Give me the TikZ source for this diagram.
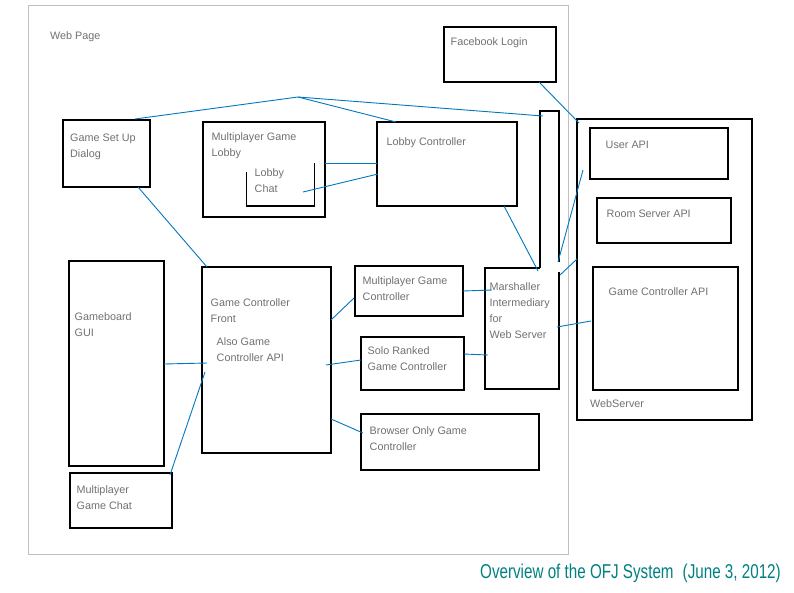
\documentclass[tikz,border=0pt]{standalone}
\usepackage{fontspec}
\setmainfont{Liberation Sans}
\definecolor{lnblue}{RGB}{0,120,192}
\definecolor{txtgray}{RGB}{112,112,112}
\definecolor{framegray}{RGB}{192,192,192}
\definecolor{titleteal}{RGB}{0,128,128}
\newcommand\mybox[5]{\node[box,minimum width=#4pt,minimum height=#5pt] (#1) at (#2,#3) {};}
\begin{document}
\begin{tikzpicture}[x=1pt,y=-1pt,
  box/.style={draw=black,line width=1.2pt,anchor=north west,inner sep=0pt,outer sep=0pt},
  lbl/.style={anchor=base west,inner sep=0pt,align=left,text=txtgray,font=\fontsize{10.8}{16}\selectfont},
  conn/.style={draw=lnblue,line width=0.9pt},
  outline/.style={draw=black,line width=1.2pt}]
\useasboundingbox (0,0) rectangle (794,592);
% web page frame
\node[draw=framegray,line width=1pt,anchor=north west,minimum width=540pt,minimum height=549pt,inner sep=0pt,outer sep=0pt] (web) at (28,5) {};
\node[lbl] (webl) at (50,39) {Web Page};
% boxes
\mybox{gsd}{63}{120}{87}{67}
\mybox{mgl}{203}{122}{122}{95}
\mybox{lc}{377}{122}{140}{84}
\mybox{fb}{444}{27}{112}{55}
\mybox{ws}{577}{119}{175}{301}
\mybox{uapi}{590}{128}{138}{51}
\mybox{rapi}{597}{198}{134}{45}
\mybox{gapi}{593}{267}{145}{123}
\mybox{gui}{69}{261}{95}{205}
\mybox{mgc}{70}{473}{102}{55}
\mybox{gcf}{202}{267}{129}{186}
\mybox{mpgc}{355}{266}{108}{50}
\mybox{srgc}{361}{337}{103}{53}
\mybox{bogc}{361}{414}{178}{56}
% marshaller and tall narrow box
\node[anchor=north west,minimum width=74pt,minimum height=121pt,inner sep=0pt,outer sep=0pt] (mar) at (485,268) {};
\coordinate (narTL) at (540,111);
\coordinate (narTR) at (559,111);
\draw[outline] (540,268) -- (narTL) -- (narTR) -- (559,262);
\draw[outline] (540,268) -- (mar.north west) -- (mar.south west) -- (mar.south east) -- (559,272);
% lobby chat bracket
\coordinate (lchatL) at (246.7,172);
\coordinate (lchatR) at (314.3,163);
\draw[outline] (lchatL) |- (314.3,206) -- (lchatR);
% labels (y = baseline of last line)
\node[lbl] (gsdl) at (70,157) {Game Set Up\\Dialog};
\node[lbl] (mgll) at (211.5,156) {Multiplayer Game\\Lobby};
\node[lbl] (lchatl) at (254.5,192) {Lobby\\Chat};
\node[lbl] (lcl) at (386.5,145) {Lobby Controller};
\node[lbl] (fbl) at (450.5,45) {Facebook Login};
\node[lbl] (uapil) at (605.5,148.5) {User API};
\node[lbl] (rapil) at (606.5,217.5) {Room Server API};
\node[lbl] (gapil) at (608.5,295) {Game Controller API};
\node[lbl] (wsl) at (590,407.5) {WebServer};
\node[lbl] (marl) at (489.5,338) {Marshaller\\Intermediary\\for\\Web Server};
\node[lbl] (mpgcl) at (362.5,300) {Multiplayer Game\\Controller};
\node[lbl] (srgcl) at (367.5,370) {Solo Ranked\\Game Controller};
\node[lbl] (bogcl) at (369.5,450) {Browser Only Game\\Controller};
\node[lbl] (guil) at (74.5,336) {Gameboard\\GUI};
\node[lbl] (mgcl) at (76.5,509.5) {Multiplayer\\Game Chat};
\node[lbl] (gcfl) at (210.5,322.5) {Game Controller\\Front};
\node[lbl] (gcfl2) at (216.5,361) {Also Game\\Controller API};
% connector end points
\coordinate (apex) at (298,97);
\coordinate (gsdTop) at (135,119);
\coordinate (lcTop) at (396,122);
\coordinate (narTop) at (543,116);
\coordinate (mglR) at (325,163);
\coordinate (lcL1) at (377,163);
\coordinate (lchatIn) at (303,192);
\coordinate (lcL2) at (378,174);
\coordinate (lcBot) at (504,206);
\coordinate (marTop) at (538,271);
\coordinate (fbBot) at (539,82);
\coordinate (wsTL) at (579,123);
\coordinate (uapiP) at (583,170);
\coordinate (narR) at (558,262);
\coordinate (marR1) at (560,275);
\coordinate (wsL) at (577,259);
\coordinate (marR2) at (557,327);
\coordinate (gapiL) at (591,321);
\coordinate (mpgcR) at (463,291);
\coordinate (marL1) at (492,290);
\coordinate (srgcR) at (464,354);
\coordinate (marL2) at (488,355);
\coordinate (gsdBot) at (138,187);
\coordinate (gcfTop) at (207,267);
\coordinate (guiR) at (164,364);
\coordinate (gcfIn1) at (207,363);
\coordinate (mgcTop) at (170,475);
\coordinate (gcfIn2) at (205,372);
\coordinate (gcfR1) at (331,320);
\coordinate (mpgcL) at (354,298);
\coordinate (gcfR2) at (326,365);
\coordinate (srgcL) at (361,360);
\coordinate (gcfR3) at (331,419);
\coordinate (bogcL) at (363,433);
% connectors
\draw[conn] (apex) -- (gsdTop);
\draw[conn] (apex) -- (lcTop);
\draw[conn] (apex) -- (narTop);
\draw[conn] (mglR) -- (lcL1);
\draw[conn] (lchatIn) -- (lcL2);
\draw[conn] (lcBot) -- (marTop);
\draw[conn] (fbBot) -- (wsTL);
\draw[conn] (uapiP) -- (narR);
\draw[conn] (marR1) -- (wsL);
\draw[conn] (marR2) -- (gapiL);
\draw[conn] (mpgcR) -- (marL1);
\draw[conn] (srgcR) -- (marL2);
\draw[conn] (gsdBot) -- (gcfTop);
\draw[conn] (guiR) -- (gcfIn1);
\draw[conn] (mgcTop) -- (gcfIn2);
\draw[conn] (gcfR1) -- (mpgcL);
\draw[conn] (gcfR2) -- (srgcL);
\draw[conn] (gcfR3) -- (bogcL);
% title
\node[anchor=base west,inner sep=0pt,text=titleteal] (title) at (480,578) {\scalebox{0.76}[1]{\fontsize{20}{24}\selectfont Overview of the OFJ System\hspace{0.6em}(June 3, 2012)}};
\end{tikzpicture}
\end{document}
